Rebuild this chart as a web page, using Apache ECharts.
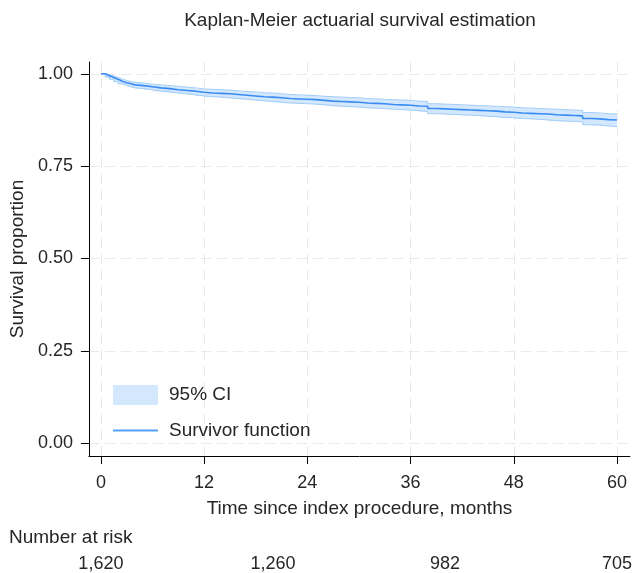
<!DOCTYPE html>
<html>
<head>
<meta charset="utf-8">
<script src="https://cdn.jsdelivr.net/npm/echarts@6/dist/echarts.min.js"></script>
<style>html,body{margin:0;padding:0;background:#fff;}#c{width:635px;height:573px;}</style>
</head>
<body>
<div id="c"></div>
<script>
const times = [0,0.5,1,1.5,2,2.5,3,3.5,4,5,6,7,8,9,10,11,12,13,14,15,16,17,18,19,20,21,22,23,24,25,26,27,28,29,30,31,32,33,34,35,36,37,38,39,40,41,42,43,44,45,46,47,48,49,50,51,52,53,54,55,56,57,58,59,60];
const survival = [1.000,0.995,0.990,0.985,0.980,0.976,0.973,0.970,0.968,0.965,0.962,0.960,0.957,0.955,0.953,0.950,0.948,0.947,0.946,0.944,0.942,0.940,0.938,0.937,0.935,0.933,0.932,0.931,0.930,0.928,0.926,0.925,0.924,0.923,0.921,0.920,0.919,0.917,0.916,0.915,0.913,0.912,0.906,0.905,0.904,0.903,0.902,0.901,0.900,0.899,0.897,0.896,0.894,0.893,0.892,0.891,0.889,0.888,0.887,0.886,0.879,0.878,0.876,0.875,0.875];
const lowerCI = [1.000,0.991,0.985,0.979,0.973,0.969,0.965,0.962,0.960,0.957,0.953,0.951,0.948,0.946,0.943,0.940,0.938,0.937,0.935,0.933,0.931,0.929,0.927,0.925,0.923,0.921,0.920,0.919,0.918,0.916,0.914,0.912,0.911,0.910,0.908,0.907,0.906,0.904,0.903,0.902,0.900,0.898,0.892,0.891,0.890,0.889,0.888,0.887,0.885,0.884,0.882,0.881,0.879,0.878,0.877,0.875,0.873,0.872,0.871,0.870,0.862,0.861,0.859,0.857,0.857];
const upperCI = [1.000,0.998,0.994,0.990,0.986,0.982,0.979,0.977,0.975,0.972,0.970,0.968,0.966,0.964,0.962,0.959,0.958,0.957,0.956,0.954,0.952,0.951,0.949,0.948,0.946,0.944,0.943,0.942,0.941,0.939,0.938,0.937,0.936,0.935,0.933,0.932,0.931,0.930,0.929,0.928,0.926,0.925,0.919,0.918,0.917,0.916,0.915,0.914,0.913,0.912,0.911,0.910,0.908,0.907,0.906,0.905,0.904,0.903,0.902,0.901,0.895,0.894,0.892,0.891,0.891];
const xTicks = [0,12,24,36,48,60];
const yTicks = [0,0.25,0.5,0.75,1];
const riskTimes = [0,20,40,60];
const riskCounts = ['1,620','1,260','982','705'];

const FONT = '"Liberation Sans", Arial, Helvetica, sans-serif';
const TXT = '#262626';
const BAND_FILL = '#d3e7fd';
const BAND_EDGE = '#a3cdf9';
const LINE_COL = '#3a8cf3';
const LEGEND_LINE = '#55a3f8';
const TICK_FS = 18;
const TEXT_FS = 19;

const lowerData = times.map((t,i)=>[t, lowerCI[i]]);
const upperData = times.map((t,i)=>[t, upperCI[i]]);
const survData = times.map((t,i)=>[t, survival[i]]);
const bandData = times.map((t,i)=>[t, lowerCI[i], upperCI[i]]);

function renderBand(params, api) {
  if (params.dataIndex !== 0) return null;
  const pts = [];
  const n = times.length;
  for (let i = 0; i < n; i++) {
    pts.push(api.coord([times[i], upperCI[i]]));
    if (i < n - 1) pts.push(api.coord([times[i+1], upperCI[i]]));
  }
  for (let i = n - 1; i >= 0; i--) {
    if (i < n - 1) pts.push(api.coord([times[i+1], lowerCI[i]]));
    pts.push(api.coord([times[i], lowerCI[i]]));
  }
  return {type: 'polygon', shape: {points: pts}, style: {fill: BAND_FILL, stroke: null}};
}

const chart = echarts.init(document.getElementById('c'), null, {renderer:'canvas'});
chart.setOption({
  animation: false,
  backgroundColor: '#fff',
  textStyle: {fontFamily: FONT},
  title: [
    {text: 'Kaplan-Meier actuarial survival estimation', left: 360, top: 11, padding: 0, textAlign: 'center',
     textStyle: {fontFamily: FONT, fontSize: TEXT_FS, fontWeight: 'normal', color: TXT}},
    {text: 'Number at risk', left: 9, top: 528, padding: 0,
     textStyle: {fontFamily: FONT, fontSize: TEXT_FS, fontWeight: 'normal', color: TXT}}
  ],
  grid: {left: 88, right: 3, top: 62, bottom: 116, containLabel: false},
  legend: {
    orient: 'vertical', left: 113, top: 385, padding: 0, itemWidth: 45, itemHeight: 20, itemGap: 16,
    textStyle: {fontFamily: FONT, fontSize: TEXT_FS, color: TXT, padding: [0,0,0,6]},
    data: [
      {name: '95% CI', icon: 'rect', itemStyle: {color: BAND_FILL, borderWidth: 0}},
      {name: 'Survivor function', icon: 'path://M0,0H45V2H0Z', itemStyle: {color: LEGEND_LINE}}
    ]
  },
  xAxis: [
    {type: 'value', min: -1.39, max: 61.5,
     axisLine: {show: true, onZero: false, lineStyle: {color: '#000', width: 1}},
     axisTick: {show: true, length: 8, customValues: xTicks, lineStyle: {color: '#000'}},
     axisLabel: {customValues: xTicks, margin: 18, fontFamily: FONT, fontSize: TICK_FS, color: TXT},
     splitLine: {show: true, lineStyle: {color: '#e9e9e9', type: [10,6], width: 1}},
     name: 'Time since index procedure, months', nameLocation: 'middle', nameGap: 43,
     nameTextStyle: {fontFamily: FONT, fontSize: TEXT_FS, color: TXT}},
    {type: 'value', min: -1.39, max: 61.5, position: 'bottom', offset: 91,
     axisLine: {show: false}, axisTick: {show: false}, splitLine: {show: false},
     axisLabel: {customValues: riskTimes, margin: 8, fontFamily: FONT, fontSize: TICK_FS, color: TXT,
       formatter: function(v){ const i = riskTimes.indexOf(v); return i >= 0 ? riskCounts[i] : ''; }}}
  ],
  yAxis: {
    type: 'value', min: -0.035, max: 1.032,
    axisLine: {show: true, onZero: false, lineStyle: {color: '#000', width: 1}},
    axisTick: {show: true, length: 8, customValues: yTicks, lineStyle: {color: '#000'}},
    axisLabel: {customValues: yTicks, margin: 16, fontFamily: FONT, fontSize: TICK_FS, color: TXT,
      formatter: v => v.toFixed(2)},
    splitLine: {show: true, lineStyle: {color: '#e9e9e9', type: [10,6], width: 1}},
    name: 'Survival proportion', nameLocation: 'middle', nameGap: 59, nameRotate: 90,
    nameTextStyle: {fontFamily: FONT, fontSize: TEXT_FS, color: TXT}
  },
  series: [
    {name: '95% CI', type: 'custom', renderItem: renderBand, data: bandData,
     encode: {x: 0, y: [1, 2]}, itemStyle: {color: BAND_FILL}, silent: true, z: 1},
    {name: 'upperEdge', type: 'line', step: 'end', data: upperData, symbol: 'none',
     lineStyle: {color: BAND_EDGE, width: 1}, silent: true, z: 2},
    {name: 'lowerEdge', type: 'line', step: 'end', data: lowerData, symbol: 'none',
     lineStyle: {color: BAND_EDGE, width: 1}, silent: true, z: 2},
    {name: 'Survivor function', type: 'line', step: 'end', data: survData, symbol: 'none',
     itemStyle: {color: LEGEND_LINE}, lineStyle: {color: LINE_COL, width: 1.6}, z: 3}
  ]
});
</script>
</body>
</html>
